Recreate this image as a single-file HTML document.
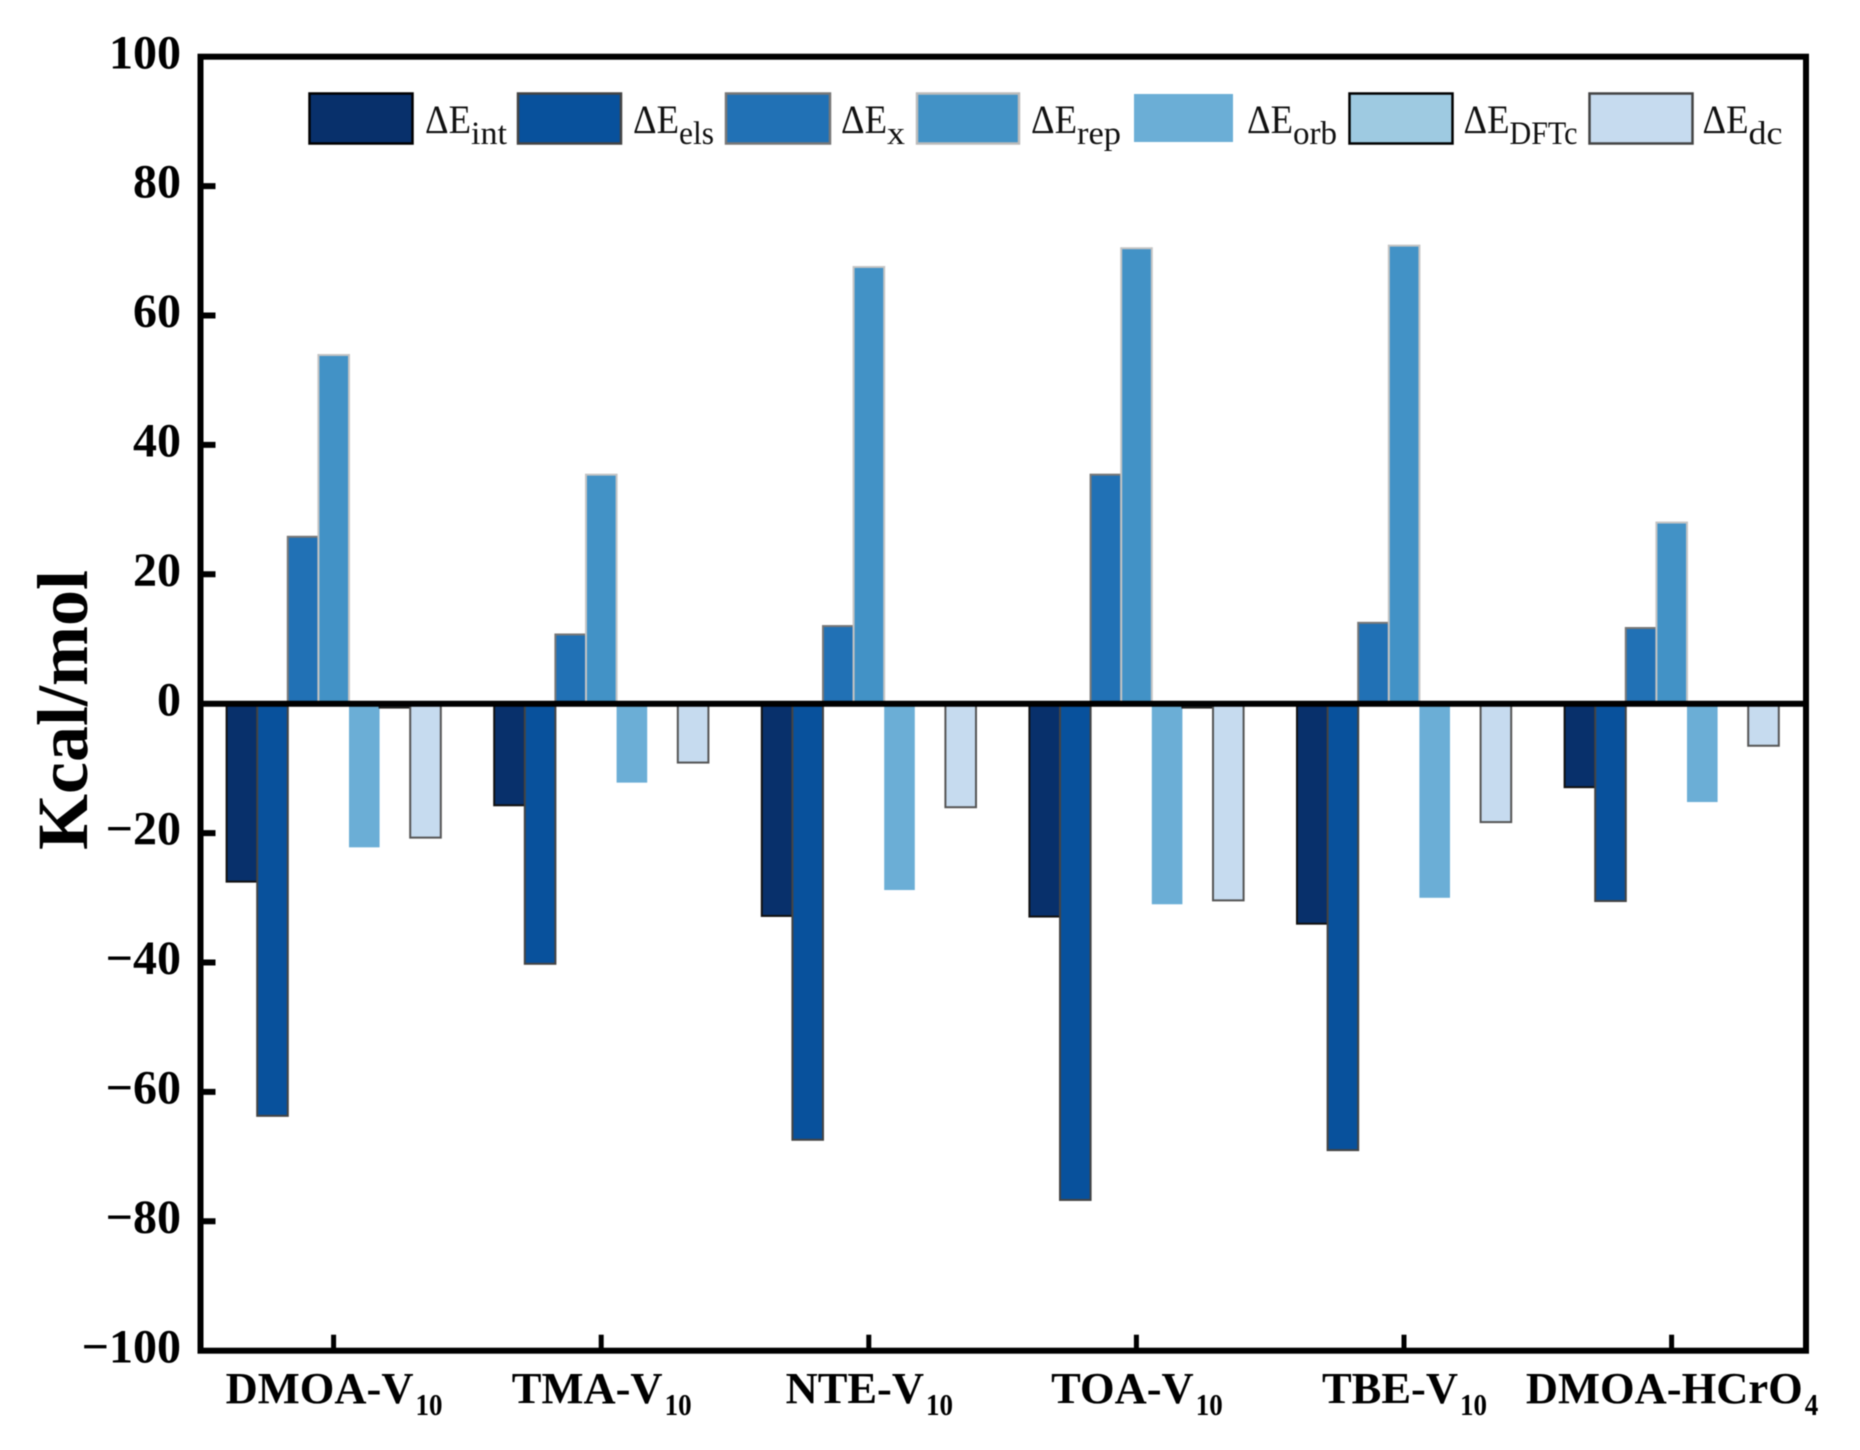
<!DOCTYPE html>
<html lang="en">
<head>
<meta charset="utf-8">
<title>Energy decomposition chart</title>
<style>
html,body{margin:0;padding:0;background:#fff;}
#chart{display:block;width:1860px;height:1450px;filter:blur(0.45px);}
text{font-family:"Liberation Serif",serif;fill:#000;}
.tick{font-size:48px;font-weight:bold;}
.cat{font-size:44.5px;font-weight:bold;}
.leg{font-size:40px;fill:#111;}
</style>
</head>
<body>
<svg id="chart" xmlns="http://www.w3.org/2000/svg" width="1860" height="1450" viewBox="0 0 1860 1450">
  <rect x="0" y="0" width="1860" height="1450" fill="#fff"/>
  <g id="bars"></g>
  <g id="axes"></g>
  <text x="0" y="0" transform="translate(87,710) rotate(-90)" text-anchor="middle" font-size="72" font-weight="bold">Kcal/mol</text>
  <g>
    <g>
      <rect x="309.5" y="93.5" width="103" height="50" fill="#08306b" stroke="#000" stroke-width="2.5"/>
      <text class="leg" x="425" y="133"><tspan textLength="46" lengthAdjust="spacingAndGlyphs">ΔE</tspan><tspan font-size="33" dy="11" textLength="36" lengthAdjust="spacingAndGlyphs">int</tspan></text>
    </g>
    <g>
      <rect x="518" y="93.5" width="103" height="50" fill="#08519c" stroke="#444" stroke-width="2.5"/>
      <text class="leg" x="633" y="133"><tspan textLength="46" lengthAdjust="spacingAndGlyphs">ΔE</tspan><tspan font-size="33" dy="11" textLength="35" lengthAdjust="spacingAndGlyphs">els</tspan></text>
    </g>
    <g>
      <rect x="726" y="93.5" width="104" height="50" fill="#2171b5" stroke="#777" stroke-width="2.5"/>
      <text class="leg" x="841" y="133"><tspan textLength="46" lengthAdjust="spacingAndGlyphs">ΔE</tspan><tspan font-size="33" dy="11" textLength="18" lengthAdjust="spacingAndGlyphs">x</tspan></text>
    </g>
    <g>
      <rect x="917" y="93.5" width="102" height="50" fill="#4292c6" stroke="#bbb" stroke-width="2.5"/>
      <text class="leg" x="1031" y="133"><tspan textLength="46" lengthAdjust="spacingAndGlyphs">ΔE</tspan><tspan font-size="33" dy="11" textLength="44" lengthAdjust="spacingAndGlyphs">rep</tspan></text>
    </g>
    <g>
      <rect x="1134" y="94" width="99" height="48" fill="#6baed6"/>
      <text class="leg" x="1247" y="133"><tspan textLength="46" lengthAdjust="spacingAndGlyphs">ΔE</tspan><tspan font-size="33" dy="11" textLength="44" lengthAdjust="spacingAndGlyphs">orb</tspan></text>
    </g>
    <g>
      <rect x="1349.5" y="93.5" width="103" height="50" fill="#9ecae1" stroke="#000" stroke-width="2.5"/>
      <text class="leg" x="1463.5" y="133"><tspan textLength="46" lengthAdjust="spacingAndGlyphs">ΔE</tspan><tspan font-size="33" dy="11" textLength="68" lengthAdjust="spacingAndGlyphs">DFTc</tspan></text>
    </g>
    <g>
      <rect x="1589.5" y="93.5" width="103" height="50" fill="#c6dbef" stroke="#444" stroke-width="2.5"/>
      <text class="leg" x="1702.5" y="133"><tspan textLength="46" lengthAdjust="spacingAndGlyphs">ΔE</tspan><tspan font-size="33" dy="11" textLength="34" lengthAdjust="spacingAndGlyphs">dc</tspan></text>
    </g>
  </g>
</svg>
<script>
var categoryNames = ['DMOA-V', 'TMA-V', 'NTE-V', 'TOA-V', 'TBE-V', 'DMOA-HCrO'];
var categorySubs = ['10', '10', '10', '10', '10', '4'];
var yTickValues = [-100, -80, -60, -40, -20, 0, 20, 40, 60, 80, 100];

var seriesInt = [-27.5, -15.7, -32.8, -32.9, -34.0, -12.9];
var seriesEls = [-63.7, -40.2, -67.4, -76.7, -69.0, -30.5];
var seriesX = [25.8, 10.7, 12.0, 35.4, 12.5, 11.7];
var seriesRep = [53.9, 35.4, 67.5, 70.4, 70.8, 28.0];
var seriesOrb = [-22.2, -12.2, -28.8, -31.0, -30.0, -15.2];
var seriesDftc = [-0.6, 0, 0, -0.6, 0, 0];
var seriesDc = [-20.7, -9.1, -16.0, -30.4, -18.3, -6.5];

var seriesList = [seriesInt, seriesEls, seriesX, seriesRep, seriesOrb, seriesDftc, seriesDc];
var seriesKeys = ['int', 'els', 'x', 'rep', 'orb', 'dftc', 'dc'];
var seriesFills = ['#08306b', '#08519c', '#2171b5', '#4292c6', '#6baed6', '#9ecae1', '#c6dbef'];
var seriesStrokes = ['#111', '#444', '#777', '#c4c4c4', 'none', '#222', '#555'];

var SVGNS = 'http://www.w3.org/2000/svg';
var PLOT_LEFT = 200.5, PLOT_RIGHT = 1806, PLOT_TOP = 56.7, PLOT_BOTTOM = 1350.7;
var BAR_WIDTH = 30.6, GROUP_SHIFT = 0.1;

function yScale(v) {
  return PLOT_BOTTOM + (v + 100) / 200 * (PLOT_TOP - PLOT_BOTTOM);
}
function xScale(i) {
  return 333.6 + i * 267.6;
}
function svgEl(tag) {
  return document.createElementNS(SVGNS, tag);
}
function drawLine(parent, x1, y1, x2, y2, w) {
  var l = svgEl('line');
  l.setAttribute('x1', x1);
  l.setAttribute('y1', y1);
  l.setAttribute('x2', x2);
  l.setAttribute('y2', y2);
  l.setAttribute('stroke', '#000');
  l.setAttribute('stroke-width', w);
  l.setAttribute('stroke-linecap', 'square');
  parent.appendChild(l);
  return l;
}

var barsGroup = document.getElementById('bars');
var axesGroup = document.getElementById('axes');

seriesList.forEach(function (values, s) {
  values.forEach(function (v, i) {
    if (v === 0) return;
    var x = xScale(i) + GROUP_SHIFT + (s - 3.5) * BAR_WIDTH;
    var yv = yScale(v), y0 = yScale(0);
    var r = svgEl('rect');
    r.setAttribute('x', x);
    r.setAttribute('y', Math.min(yv, y0));
    r.setAttribute('width', BAR_WIDTH);
    r.setAttribute('height', Math.abs(yv - y0));
    r.setAttribute('fill', seriesFills[s]);
    r.setAttribute('stroke', seriesStrokes[s]);
    r.setAttribute('stroke-width', '2');
    
    
    barsGroup.appendChild(r);
  });
});

// frame
var frame = svgEl('rect');
frame.setAttribute('x', PLOT_LEFT);
frame.setAttribute('y', PLOT_TOP);
frame.setAttribute('width', PLOT_RIGHT - PLOT_LEFT);
frame.setAttribute('height', PLOT_BOTTOM - PLOT_TOP);
frame.setAttribute('fill', 'none');
frame.setAttribute('stroke', '#000');
frame.setAttribute('stroke-width', '6');


axesGroup.appendChild(frame);

// zero line
var zeroLine = drawLine(axesGroup, PLOT_LEFT, yScale(0), PLOT_RIGHT, yScale(0), 6);



// y ticks and labels
yTickValues.forEach(function (v) {
  var y = yScale(v);
  if (v !== 100 && v !== -100 && v !== 0) {
    var t = drawLine(axesGroup, PLOT_LEFT, y, PLOT_LEFT + 12, y, 6);
    
    
  }
  var lab = svgEl('text');
  lab.setAttribute('class', 'tick');
  lab.setAttribute('x', 181);
  lab.setAttribute('y', y + 11.6);
  lab.setAttribute('text-anchor', 'end');
  
  
  lab.textContent = v < 0 ? '\u2212' + Math.abs(v) : String(v);
  axesGroup.appendChild(lab);
});

// x ticks and labels
categoryNames.forEach(function (name, i) {
  var x = xScale(i);
  var t = svgEl('line');
  t.setAttribute('x1', x);
  t.setAttribute('x2', x);
  t.setAttribute('y1', PLOT_BOTTOM);
  t.setAttribute('y2', PLOT_BOTTOM - 16);
  t.setAttribute('stroke', '#000');
  t.setAttribute('stroke-width', '5');
  
  
  axesGroup.appendChild(t);

  var lab = svgEl('text');
  lab.setAttribute('class', 'cat');
  lab.setAttribute('x', x + 0.5);
  lab.setAttribute('y', 1403);
  lab.setAttribute('text-anchor', 'middle');
  
  
  var main = svgEl('tspan');
  main.textContent = name;
  var sub = svgEl('tspan');
  sub.setAttribute('font-size', '31');
  sub.setAttribute('dx', '2');
  sub.setAttribute('dy', '12');
  sub.setAttribute('textLength', 13.5 * categorySubs[i].length);
  sub.setAttribute('lengthAdjust', 'spacingAndGlyphs');
  sub.textContent = categorySubs[i];
  lab.appendChild(main);
  lab.appendChild(sub);
  axesGroup.appendChild(lab);
});
</script>
</body>
</html>
